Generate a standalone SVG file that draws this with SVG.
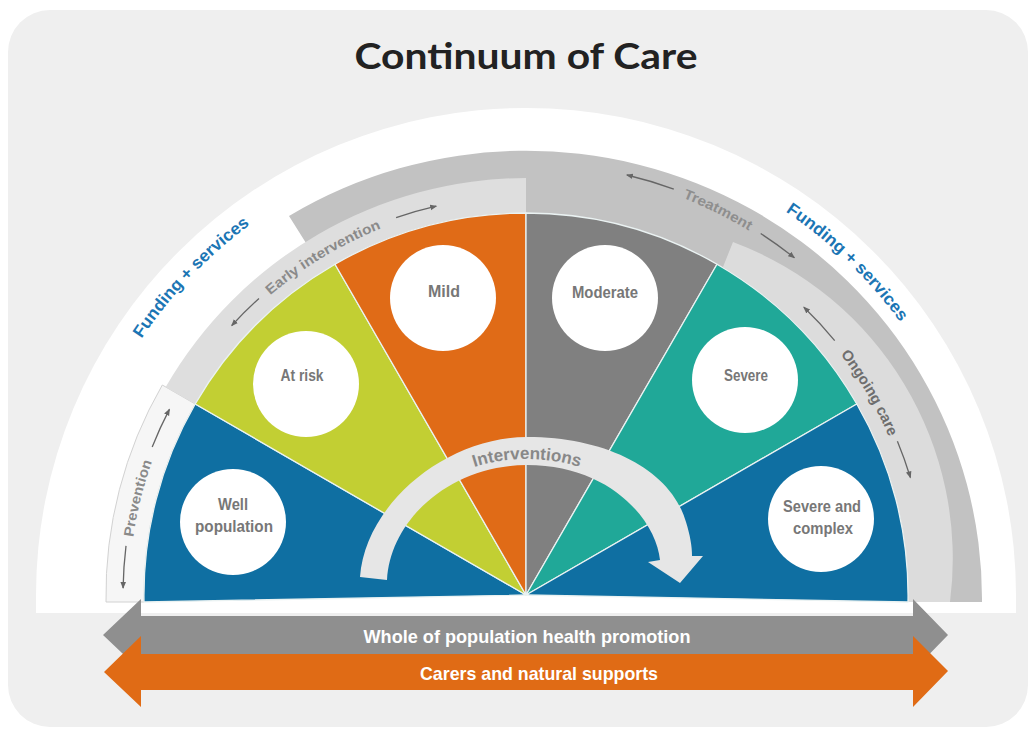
<svg xmlns="http://www.w3.org/2000/svg" width="1029" height="729" viewBox="0 0 1029 729">
<style>
.lbl{font-family:'Liberation Sans Narrow','Liberation Sans',Arial,sans-serif;font-weight:bold;fill:#777777;font-size:16px;text-anchor:middle}
.band{font-family:'Liberation Sans Narrow','Liberation Sans',Arial,sans-serif;font-weight:bold;font-size:14px;fill:#8a8a8a;text-anchor:middle}
.fund{font-family:'Liberation Sans Narrow','Liberation Sans',Arial,sans-serif;font-weight:bold;font-size:17px;fill:#1b75b4;text-anchor:middle}
.bar{font-family:'Liberation Sans Narrow','Liberation Sans',Arial,sans-serif;font-weight:bold;font-size:19px;fill:#ffffff;text-anchor:middle}
.wedge{stroke:#eaf2f2;stroke-width:1.3;stroke-linejoin:round}
.small{fill:none;stroke:#666;stroke-width:1.3;marker-end:url(#ah)}
.disc{fill:#ffffff}
</style>
<defs>
<marker id="ah" markerWidth="8" markerHeight="8" refX="6" refY="4" orient="auto" markerUnits="userSpaceOnUse">
<path d="M0,1.2 L7,4 L0,6.8 Z" fill="#666"/>
</marker>
<path id="tpPrev" d="M129.1,601.9 A397,397 0 0 1 178.8,402.5"/>
<path id="tpEarly" d="M181.4,404 A394,394 0 0 1 519.1,201.1"/>
<path id="tpTreat" d="M611.1,176.6 A427,427 0 0 1 808.9,275.2"/>
<path id="tpOngo" d="M803.5,312.6 A396,396 0 0 1 907.6,489.2"/>
<path id="tpFundL" d="M102.3,410.8 A463,463 0 0 1 319.8,181.6"/>
<path id="tpFundR" d="M714.3,172 A463,463 0 0 1 942.1,392"/>
<path id="tpInt" d="M385,575 C395,500 455,459 527,459 C599,459 659,500 669,575"/>
</defs>

<g id="background">
<rect x="0" y="0" width="1029" height="729" fill="#ffffff"/>
<rect x="8" y="10" width="1020" height="717" rx="42" ry="42" fill="#efefef"/>
<path d="M36,613 L36,595 A490,487 0 0 1 1016,595 L1016,613 Z" fill="#ffffff"/>
</g>

<g id="bands">
<path id="band-treatment" d="M289,216 A456,448 0 0 1 982,602 L908,602 A382,382 0 0 0 323.6,271 Z" fill="#c2c2c2"/>
<path id="band-prevention" d="M144,602 L106,602 A420,420 0 0 1 162.3,385 L195.2,404 A382,382 0 0 0 144,602 Z" fill="#f6f6f6" stroke="#d2d2d2" stroke-width="1"/>
<path id="band-early" d="M195.2,404 L165.7,387 A418,418 0 0 1 526,178 L526,213 A382,382 0 0 0 195.2,404 Z" fill="#dedede"/>
<path id="band-ongoing" d="M723,267 L733,242 A338,338 0 0 1 950,602 L908,602 A382,382 0 0 0 723,267 Z" fill="#dcdcdc"/>
</g>

<g id="wedge-well">
<path class="wedge" d="M526,595 L144,602 A382,382 0 0 1 195.2,404 Z" fill="#0f6fa2"/>
</g>
<g id="wedge-atrisk">
<path class="wedge" d="M526,595 L195.2,404 A382,382 0 0 1 335,264.2 Z" fill="#c2cf33"/>
</g>
<g id="wedge-mild">
<path class="wedge" d="M526,595 L335,264.2 A382,382 0 0 1 526,213 Z" fill="#e06b17"/>
</g>
<g id="wedge-moderate">
<path class="wedge" d="M526,595 L526,213 A382,382 0 0 1 717,264.2 Z" fill="#808080"/>
</g>
<g id="wedge-severe">
<path class="wedge" d="M526,595 L717,264.2 A382,382 0 0 1 856.8,404 Z" fill="#20a898"/>
</g>
<g id="wedge-complex">
<path class="wedge" d="M526,595 L856.8,404 A382,382 0 0 1 908,602 Z" fill="#0f6fa2"/>
</g>

<g id="interventions">
<path d="M360,577 C365,505 445,437 527,437 C610,437 672,472 686,522 C690,535 692,546 692,556 L703,556 L680,583 L648,562 L660,560 C656,520 610,465 527,465 C450,465 390,520 387,580 Z" fill="#e6e6e6"/>
<text style="font-family:'Liberation Sans Narrow','Liberation Sans',Arial,sans-serif;font-weight:bold;font-size:17px;fill:#888888;text-anchor:middle"><textPath href="#tpInt" startOffset="50%" textLength="107" lengthAdjust="spacingAndGlyphs">Interventions</textPath></text>
</g>

<g id="node-well">
<circle class="disc" cx="233" cy="522" r="53"/>
<text class="lbl" x="233" y="510" textLength="30" lengthAdjust="spacingAndGlyphs">Well</text>
<text class="lbl" x="234" y="532" textLength="78" lengthAdjust="spacingAndGlyphs">population</text>
</g>
<g id="node-atrisk">
<circle class="disc" cx="306" cy="384" r="53"/>
<text class="lbl" x="302" y="381" textLength="43" lengthAdjust="spacingAndGlyphs">At risk</text>
</g>
<g id="node-mild">
<circle class="disc" cx="443" cy="298" r="53"/>
<text class="lbl" x="444" y="297" textLength="32" lengthAdjust="spacingAndGlyphs">Mild</text>
</g>
<g id="node-moderate">
<circle class="disc" cx="605" cy="298" r="53"/>
<text class="lbl" x="605" y="298" textLength="66" lengthAdjust="spacingAndGlyphs">Moderate</text>
</g>
<g id="node-severe">
<circle class="disc" cx="745" cy="380" r="53"/>
<text class="lbl" x="746" y="381" textLength="44" lengthAdjust="spacingAndGlyphs">Severe</text>
</g>
<g id="node-complex">
<circle class="disc" cx="821" cy="519" r="53"/>
<text class="lbl" x="822" y="512" textLength="78" lengthAdjust="spacingAndGlyphs">Severe  and</text>
<text class="lbl" x="823" y="534" textLength="60" lengthAdjust="spacingAndGlyphs">complex</text>
</g>

<g id="band-labels">
<text class="band"><textPath href="#tpPrev" startOffset="50%" textLength="78" lengthAdjust="spacingAndGlyphs">Prevention</textPath></text>
<text class="band"><textPath href="#tpEarly" startOffset="50%" textLength="130" lengthAdjust="spacingAndGlyphs">Early intervention</textPath></text>
<text class="band" style="fill:#8e8e8e"><textPath href="#tpTreat" startOffset="50%" textLength="74" lengthAdjust="spacingAndGlyphs">Treatment</textPath></text>
<text class="band" style="fill:#6e6e6e;font-size:15px"><textPath href="#tpOngo" startOffset="50%" textLength="96" lengthAdjust="spacingAndGlyphs">Ongoing care</textPath></text>
<text class="fund"><textPath href="#tpFundL" startOffset="50%" textLength="158" lengthAdjust="spacingAndGlyphs">Funding + services</textPath></text>
<text class="fund"><textPath href="#tpFundR" startOffset="50%" textLength="160" lengthAdjust="spacingAndGlyphs">Funding + services</textPath></text>
</g>

<g id="connectors">
<path class="small" d="M152.2,447 A402,402 0 0 1 169.4,409.4"/>
<path class="small" d="M126,545.9 A403,403 0 0 0 123.1,588"/>
<path class="small" d="M259,298.5 A399,399 0 0 0 231.8,325.5"/>
<path class="small" d="M396.1,217.7 A399,399 0 0 1 436.2,206.2"/>
<path class="small" d="M673.8,189.1 A432,432 0 0 0 626.9,175"/>
<path class="small" d="M760.7,233.5 A431,431 0 0 1 794.3,257.7"/>
<path class="small" d="M834.7,340.6 A400,400 0 0 0 803.9,307.3"/>
<path class="small" d="M897.4,441.2 A402,402 0 0 1 910.4,477.5"/>
</g>

<g id="bar-health">
<path d="M103,635 L141,599 L141,616 L913,616 L913,599 L948,635 L913,671 L913,655 L141,655 L141,671 Z" fill="#8f8f8f"/>
<text class="bar" x="527" y="643" textLength="327" lengthAdjust="spacingAndGlyphs">Whole of population health promotion</text>
</g>
<g id="bar-carers">
<path d="M104,672 L141,636 L141,654 L913,654 L913,636 L948,671 L913,707 L913,690 L141,690 L141,707 Z" fill="#e06b15"/>
<text class="bar" x="539" y="680" textLength="238" lengthAdjust="spacingAndGlyphs">Carers and natural supports</text>
</g>

<g id="title">
<text x="526" y="69" style="font-family:Lato,'Liberation Sans',Arial,sans-serif;font-weight:bold;font-size:37px;fill:#222222;text-anchor:middle" textLength="343" lengthAdjust="spacingAndGlyphs">Continuum of Care</text>
</g>
</svg>
